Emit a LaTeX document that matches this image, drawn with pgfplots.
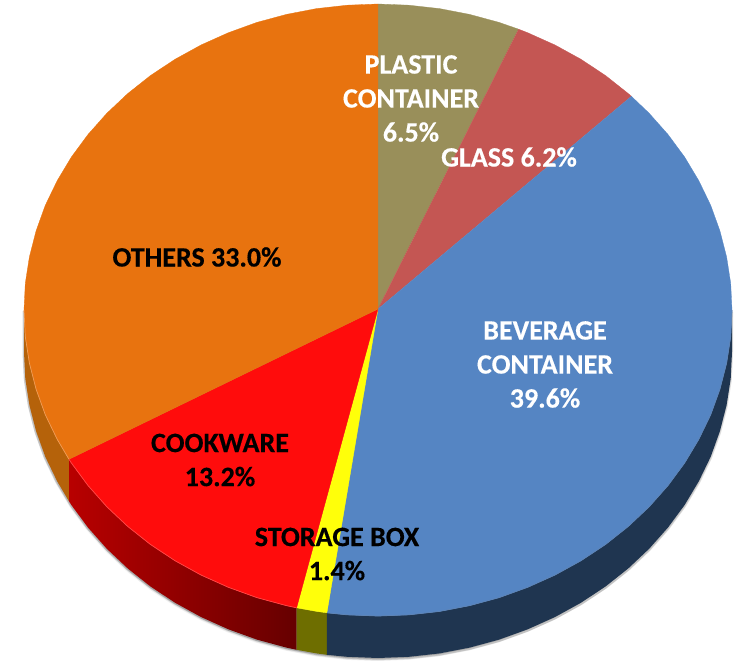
\documentclass[border=0pt]{standalone}
\usepackage{pgfplots}
\pgfplotsset{compat=1.18}
\usepackage{pgfplotstable}
\usepackage{fontspec}
\setmainfont{Carlito}[BoldFeatures={FakeBold=0.35}]
\definecolor{cPlastic}{HTML}{998F5A}
\definecolor{cGlass}{HTML}{C45653}
\definecolor{cBev}{HTML}{5585C3}
\definecolor{cStore}{HTML}{FFFF0A}
\definecolor{cCook}{HTML}{FF0C0C}
\definecolor{cOther}{HTML}{E8730F}
\definecolor{wBev}{HTML}{1F3550}
\definecolor{wStore}{HTML}{6E6E00}
\definecolor{wOther}{HTML}{B5620A}
\definecolor{wCookA}{HTML}{B80000}
\definecolor{wCookB}{HTML}{660000}
\tikzset{lbl/.style={font=\fontsize{28}{34}\selectfont\bfseries,align=center,inner sep=0pt}}
\pgfplotstableread{
x y
24 310
24 352
25.3 378.7
29.4 405.1
36.1 431.2
45.3 456.7
57.2 481.3
71.4 505
88 527.5
106.8 548.7
127.7 568.4
150.4 586.4
175 602.7
201 617
228.4 629.3
256.9 639.6
286.4 647.6
316.5 653.4
347.1 656.8
378 658
408.9 656.8
439.5 653.4
469.6 647.6
499.1 639.6
527.6 629.3
555 617
581 602.7
605.6 586.4
628.3 568.4
649.2 548.7
668 527.5
684.6 505
698.8 481.3
710.7 456.7
719.9 431.2
726.6 405.1
730.7 378.7
732 352
732 310
}\silhouette
\begin{document}
\begin{tikzpicture}
\begin{axis}[
  width=744pt,height=661pt,scale only axis,hide axis,
  xmin=0,xmax=744,ymin=0,ymax=661,y dir=reverse,clip=false,
  every axis plot/.append style={forget plot}]
% soft shadow
\addplot[fill=black,fill opacity=.06,draw=none,xshift=-1pt,yshift=-3pt] table {\silhouette};
\addplot[fill=black,fill opacity=.08,draw=none,xshift=0pt,yshift=-2.5pt] table {\silhouette};
\addplot[fill=black,fill opacity=.12,draw=none,xshift=1pt,yshift=-2pt] table {\silhouette};
\addplot[fill=black,fill opacity=.16,draw=none,xshift=-1.5pt,yshift=-1pt] table {\silhouette};
% side walls
\addplot[fill=wOther,draw=none] coordinates {(69,459.3)(57.2,439.3)(45.3,414.7)(36.1,389.2)(29.4,363.1)(25.3,336.7)(24,310)(24,352)(25.3,378.7)(29.4,405.1)(36.1,431.2)(45.3,456.7)(57.2,481.3)(69,501.3)};
\addplot[shade,left color=wCookA,right color=wCookB,draw=none] coordinates {(296.6,607.8)(286.4,605.6)(256.9,597.6)(228.4,587.3)(201,575)(175,560.7)(150.4,544.4)(127.7,526.4)(106.8,506.7)(88,485.5)(71.4,463)(69,459.3)(69,501.3)(71.4,505)(88,527.5)(106.8,548.7)(127.7,568.4)(150.4,586.4)(175,602.7)(201,617)(228.4,629.3)(256.9,639.6)(286.4,647.6)(296.6,649.8)};
\addplot[fill=wStore,draw=none] coordinates {(326.9,612.8)(316.5,611.4)(296.6,607.8)(296.6,649.8)(316.5,653.4)(326.9,654.8)};
\addplot[fill=wBev,draw=none] coordinates {(732,310)(730.7,336.7)(726.6,363.1)(719.9,389.2)(710.7,414.7)(698.8,439.3)(684.6,463)(668,485.5)(649.2,506.7)(628.3,526.4)(605.6,544.4)(581,560.7)(555,575)(527.6,587.3)(499.1,597.6)(469.6,605.6)(439.5,611.4)(408.9,614.8)(378,616)(347.1,614.8)(326.9,612.8)(326.9,654.8)(347.1,656.8)(378,658)(408.9,656.8)(439.5,653.4)(469.6,647.6)(499.1,639.6)(527.6,629.3)(555,617)(581,602.7)(605.6,586.4)(628.3,568.4)(649.2,548.7)(668,527.5)(684.6,505)(698.8,481.3)(710.7,456.7)(719.9,431.2)(726.6,405.1)(730.7,378.7)(732,352)};
% top slices
\addplot[fill=cPlastic,draw=cPlastic,line width=.3pt] coordinates {(378,309)(378,4)(408.9,5.2)(439.5,8.6)(469.6,14.4)(499.1,22.4)(518.6,29.2)};
\addplot[fill=cGlass,draw=cGlass,line width=.3pt] coordinates {(378,309)(518.6,29.2)(527.6,32.7)(555,45)(581,59.3)(605.6,75.6)(628.3,93.6)(631.4,96.3)};
\addplot[fill=cBev,draw=cBev,line width=.3pt] coordinates {(378,309)(631.4,96.3)(649.2,113.3)(668,134.5)(684.6,157)(698.8,180.7)(710.7,205.3)(719.9,230.8)(726.6,256.9)(730.7,283.3)(732,310)(730.7,336.7)(726.6,363.1)(719.9,389.2)(710.7,414.7)(698.8,439.3)(684.6,463)(668,485.5)(649.2,506.7)(628.3,526.4)(605.6,544.4)(581,560.7)(555,575)(527.6,587.3)(499.1,597.6)(469.6,605.6)(439.5,611.4)(408.9,614.8)(378,616)(347.1,614.8)(326.9,612.8)};
\addplot[fill=cStore,draw=cStore,line width=.3pt] coordinates {(378,309)(326.9,612.8)(316.5,611.4)(296.6,607.8)};
\addplot[fill=cCook,draw=cCook,line width=.3pt] coordinates {(378,309)(296.6,607.8)(286.4,605.6)(256.9,597.6)(228.4,587.3)(201,575)(175,560.7)(150.4,544.4)(127.7,526.4)(106.8,506.7)(88,485.5)(71.4,463)(69,459.3)};
\addplot[fill=cOther,draw=cOther,line width=.3pt] coordinates {(378,309)(69,459.3)(57.2,439.3)(45.3,414.7)(36.1,389.2)(29.4,363.1)(25.3,336.7)(24,310)(25.3,283.3)(29.4,256.9)(36.1,230.8)(45.3,205.3)(57.2,180.7)(71.4,157)(88,134.5)(106.8,113.3)(127.7,93.6)(150.4,75.6)(175,59.3)(201,45)(228.4,32.7)(256.9,22.4)(286.4,14.4)(316.5,8.6)(347.1,5.2)(378,4)};
% light rim along the front edge
\addplot[color=cOther!70!white,line width=.7pt] coordinates {(69,459.3)(57.2,439.3)(45.3,414.7)(36.1,389.2)(29.4,363.1)(25.3,336.7)(24,310)};
\addplot[color=cCook!75!white,line width=.7pt] coordinates {(296.6,607.8)(286.4,605.6)(256.9,597.6)(228.4,587.3)(201,575)(175,560.7)(150.4,544.4)(127.7,526.4)(106.8,506.7)(88,485.5)(71.4,463)(69,459.3)};
\addplot[color=cBev!80!gray,line width=.7pt] coordinates {(732,310)(730.7,336.7)(726.6,363.1)(719.9,389.2)(710.7,414.7)(698.8,439.3)(684.6,463)(668,485.5)(649.2,506.7)(628.3,526.4)(605.6,544.4)(581,560.7)(555,575)(527.6,587.3)(499.1,597.6)(469.6,605.6)(439.5,611.4)(408.9,614.8)(378,616)(347.1,614.8)(326.9,612.8)};
% labels
\node[lbl,text=white] at (axis cs:411,98.5) {PLASTIC\\CONTAINER\\6.5\%};
\node[lbl,text=white] at (axis cs:509,157) {GLASS 6.2\%};
\node[lbl,text=white] at (axis cs:545,364.5) {BEVERAGE\\CONTAINER\\39.6\%};
\node[lbl,text=black] at (axis cs:197,257) {OTHERS 33.0\%};
\node[lbl,text=black] at (axis cs:220,460) {COOKWARE\\13.2\%};
\node[lbl,text=black] at (axis cs:337,554) {STORAGE BOX\\1.4\%};
\path[use as bounding box] (axis cs:0,0) rectangle (axis cs:744,661);
\end{axis}
\end{tikzpicture}
\end{document}
